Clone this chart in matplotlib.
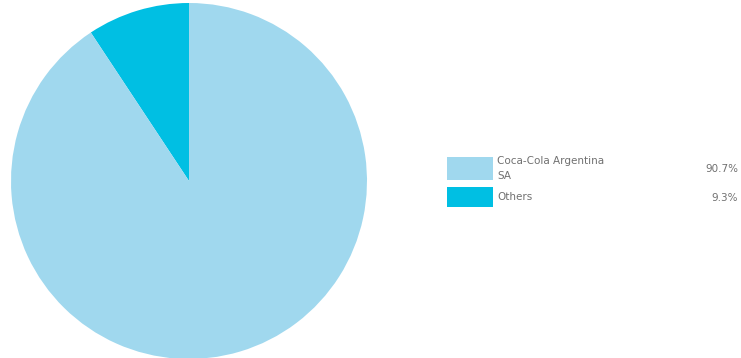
import matplotlib.pyplot as plt
from matplotlib.patches import Rectangle

labels = ['Coca-Cola Argentina\nSA', 'Others']
shares = [90.7, 9.3]
colors = ['#a0d8ee', '#00bfe3']

fig = plt.figure(figsize=(7.41, 3.58), dpi=100)
W, H = 741, 358

# pie: centre ~ (189, 181) px, radius ~178 px
r = 178
ax = fig.add_axes([(189 - r) / W, (H - 181 - r) / H, 2 * r / W, 2 * r / H])
ax.pie(shares[::-1], colors=colors[::-1], startangle=90, counterclock=True,
       wedgeprops=dict(linewidth=0))
ax.set_xlim(-1, 1)
ax.set_ylim(-1, 1)
ax.set_aspect('equal')
ax.axis('off')

# legend
leg = fig.add_axes([0, 0, 1, 1], facecolor='none')
leg.set_xlim(0, W)
leg.set_ylim(H, 0)
leg.axis('off')
rows = [(157, 180), (187, 207)]
for (y0, y1), lab, val, c in zip(rows, labels, shares, colors):
    leg.add_patch(Rectangle((447, y0), 46, y1 - y0, color=c, lw=0))
    for i, line in enumerate(lab.split('\n')):
        ty = (y0 + 4 + 15 * i) if '\n' in lab else (y0 + y1) / 2
        leg.text(497, ty, line, fontsize=7.5, color='#707070', va='center',
                 ha='left')
    leg.text(738, (y0 + y1) / 2 + 1, f'{val}%', fontsize=7.5,
             color='#707070', va='center', ha='right')

fig.savefig('out.png', dpi=100)
